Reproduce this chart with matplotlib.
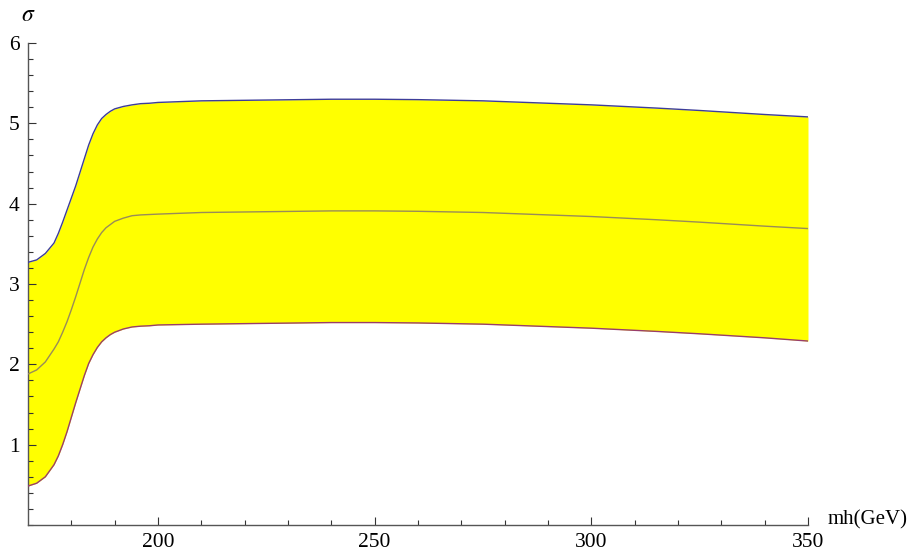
import numpy as np
import matplotlib
matplotlib.use("Agg")
import matplotlib.pyplot as plt
from matplotlib.ticker import MultipleLocator, FixedLocator

plt.rcParams['font.family'] = ['Liberation Serif', 'DejaVu Serif']
plt.rcParams['mathtext.fontset'] = 'stix'

# valores (mh en GeV, sigma)
mh = np.array([170, 172, 174, 176, 177, 178, 179, 180, 181, 182, 183, 184, 185,
               186, 187, 188, 189, 190, 192, 194, 196, 198, 200, 210, 225, 240,
               250, 260, 275, 290, 300, 315, 325, 340, 350])
sigma_alto = np.array([3.27, 3.30, 3.38, 3.51, 3.63, 3.77, 3.92, 4.07, 4.22, 4.39,
                       4.56, 4.73, 4.87, 4.98, 5.06, 5.11, 5.15, 5.18, 5.21, 5.23,
                       5.245, 5.25, 5.26, 5.28, 5.29, 5.30, 5.30, 5.295, 5.28, 5.25,
                       5.23, 5.19, 5.16, 5.11, 5.08])
sigma_central = np.array([1.88, 1.93, 2.03, 2.19, 2.28, 2.40, 2.53, 2.68, 2.84, 3.01,
                          3.18, 3.33, 3.46, 3.56, 3.64, 3.70, 3.74, 3.78, 3.82, 3.85,
                          3.86, 3.865, 3.87, 3.89, 3.90, 3.91, 3.91, 3.905, 3.89, 3.86,
                          3.84, 3.80, 3.77, 3.72, 3.69])
sigma_bajo = np.array([0.485, 0.52, 0.60, 0.75, 0.86, 1.00, 1.16, 1.34, 1.52, 1.69,
                       1.86, 2.01, 2.12, 2.21, 2.28, 2.33, 2.37, 2.40, 2.44, 2.465,
                       2.475, 2.48, 2.49, 2.50, 2.51, 2.52, 2.52, 2.515, 2.50, 2.47,
                       2.45, 2.41, 2.38, 2.33, 2.29])

fig = plt.figure(figsize=(9.18, 5.51), dpi=100)
ax = fig.add_axes([28/918, 26/551, 780/918, 482/551])

# relleno amarillo entre la curva alta y la baja
ax.fill_between(mh, sigma_bajo, sigma_alto, color='#ffff00', lw=0, zorder=1)

ax.plot(mh, sigma_alto, color=(0.24, 0.24, 0.6), lw=1.0, zorder=3)
ax.plot(mh, sigma_central, color=(0.6, 0.55, 0.35), lw=1.0, zorder=3)
ax.plot(mh, sigma_bajo, color=(0.6, 0.24, 0.42), lw=1.0, zorder=3)

ax.set_xlim(170, 350)
ax.set_ylim(0, 6)

ax.xaxis.set_major_locator(FixedLocator([200, 250, 300, 350]))
ax.xaxis.set_minor_locator(FixedLocator([v for v in range(180, 350, 10) if v % 50 != 0]))
ax.yaxis.set_major_locator(FixedLocator([1, 2, 3, 4, 5, 6]))
ax.yaxis.set_minor_locator(MultipleLocator(0.2))

for s in ['top', 'right']:
    ax.spines[s].set_visible(False)
for s in ['left', 'bottom']:
    ax.spines[s].set_color('#555555')
    ax.spines[s].set_linewidth(1.0)

ax.tick_params(which='major', direction='in', length=6, width=0.8, color='#333333',
               labelsize=15.5, pad=6)
ax.tick_params(which='minor', direction='in', length=3.5, width=0.8, color='#333333')

ax.text(170, 6.34, r'$\sigma$', ha='center', va='center', fontsize=17, clip_on=False)
ax.text(354.5, 0.06, 'mh(GeV)', ha='left', va='center', fontsize=15, clip_on=False)

fig.savefig('out.png', dpi=100)
